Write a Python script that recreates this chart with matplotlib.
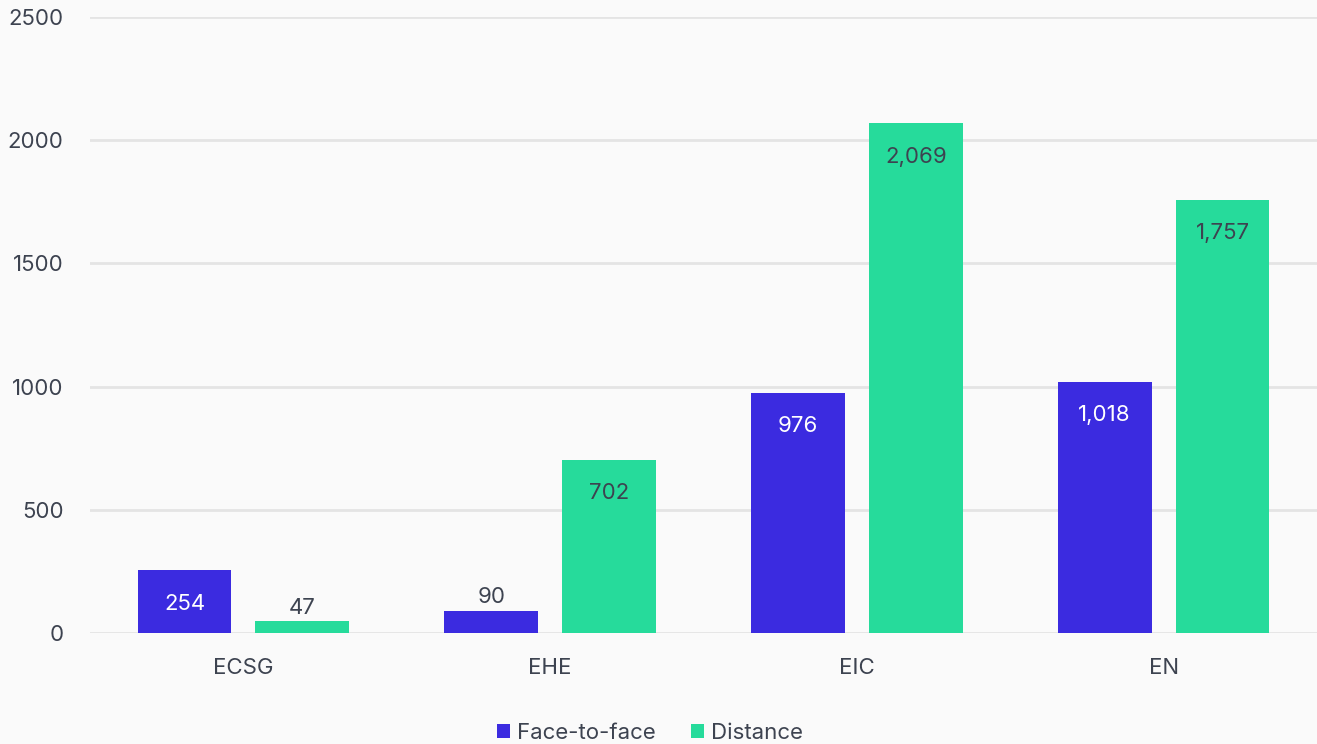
import matplotlib
matplotlib.use("Agg")
import matplotlib.pyplot as plt
import numpy as np

categories = ["ECSG", "EHE", "EIC", "EN"]
face_to_face = [254, 90, 976, 1018]
distance = [47, 702, 2069, 1757]
series_names = ["Face-to-face", "Distance"]
y_ticks = [0, 500, 1000, 1500, 2000, 2500]

BLUE = "#3b2be0"
GREEN = "#26db9b"
TEXT = "#3d4350"
BG = "#fafafa"

plt.rcParams["font.family"] = ["Inter", "DejaVu Sans"]

fig = plt.figure(figsize=(13.17, 7.44), dpi=100, facecolor=BG)
ax = fig.add_axes([90 / 1317, 1 - 633 / 744, 1227 / 1317, 616 / 744], facecolor=BG)

x = np.arange(len(categories))
w = 0.306
off = 0.192
b1 = ax.bar(x - off, face_to_face, width=w, color=BLUE, label=series_names[0], zorder=3)
b2 = ax.bar(x + off, distance, width=w, color=GREEN, label=series_names[1], zorder=3)

ax.set_xlim(-0.5, 3.5)
ax.set_ylim(0, 2500)
ax.set_yticks(y_ticks)
ax.set_yticklabels([str(t) for t in y_ticks])
ax.set_xticks(x)
ax.set_xticklabels(categories)
ax.tick_params(axis="both", length=0, labelsize=16, colors=TEXT)
ax.tick_params(axis="y", pad=19)
ax.tick_params(axis="x", pad=18)
for s in ax.spines.values():
    s.set_visible(False)
ax.grid(axis="y", color="#e4e4e4", linewidth=2, zorder=0)
ax.set_axisbelow(True)

def label(bars, vals, inside_color):
    for rect, v in zip(bars, vals):
        cx = rect.get_x() + rect.get_width() / 2
        txt = f"{v:,}"
        if v > 200:
            ax.annotate(txt, (cx, v), xytext=(0, -24), textcoords="offset points",
                        ha="center", va="center", fontsize=16, color=inside_color, zorder=4)
        else:
            ax.annotate(txt, (cx, v), xytext=(0, 10), textcoords="offset points",
                        ha="center", va="center", fontsize=16, color=TEXT, zorder=4)

label(b1, face_to_face, "white")
label(b2, distance, TEXT)

leg = fig.legend(loc="center", bbox_to_anchor=(650 / 1317, 1 - 733 / 744), ncol=2,
                 frameon=False, fontsize=16, handlelength=0.6, handleheight=0.6,
                 handletextpad=0.3, columnspacing=1.6)
for t in leg.get_texts():
    t.set_color(TEXT)

fig.savefig("out.png", dpi=100, facecolor=BG)
